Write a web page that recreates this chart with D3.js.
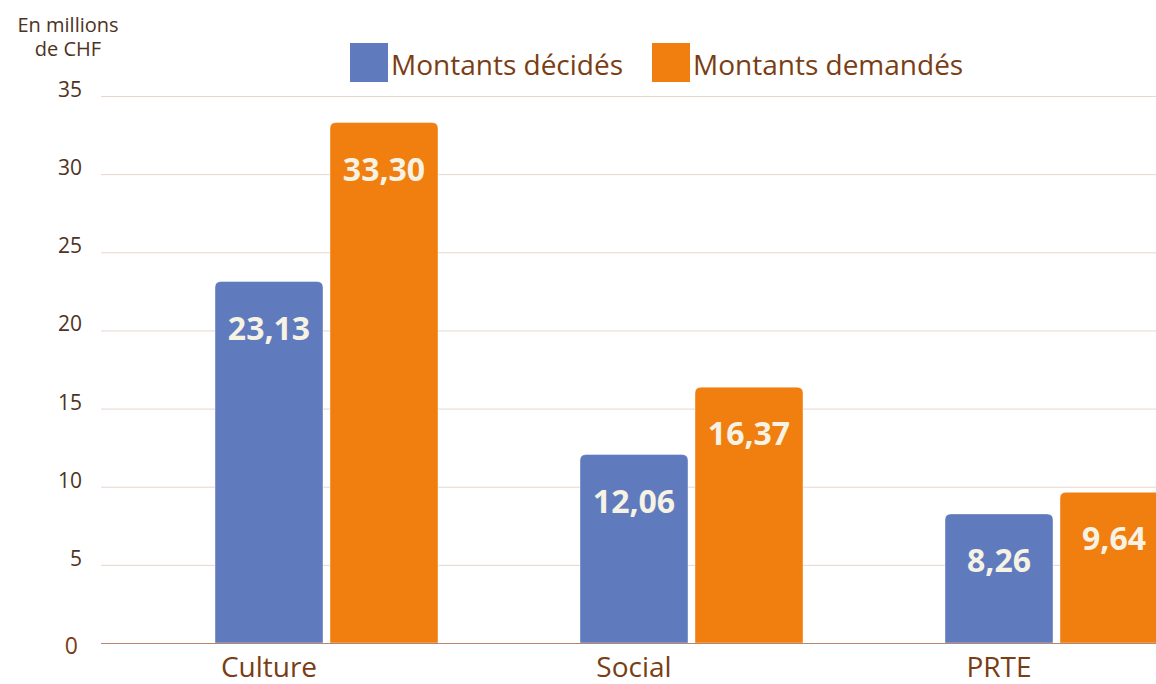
<!DOCTYPE html>
<html>
<head>
<meta charset="utf-8">
<script src="https://cdn.jsdelivr.net/npm/d3@7"></script>
<style>
  body { margin: 0; background: #fff; }
  svg { display: block; font-family: "Open Sans", "Noto Sans", sans-serif; }
</style>
</head>
<body>
<svg id="chart"></svg>
<script>
const categories = ['Culture', 'Social', 'PRTE'];
const seriesNames = ['Montants décidés', 'Montants demandés'];
const decides = [23.13, 12.06, 8.26];
const demandes = [33.30, 16.37, 9.64];
const yTicks = [0, 5, 10, 15, 20, 25, 30, 35];

const width = 1156, height = 684;
const colors = ['#5f7bbd', '#f07f10'];
const brown = '#7a3d14';
const darkBrown = '#4e3323';

const svg = d3.select('#chart').attr('width', width).attr('height', height);

// scales
const x = d3.scaleBand().domain(categories).range([144, 1239]).padding(0);
const y = d3.scaleLinear().domain([0, 35]).range([643, 96]);
const barW = 108, gap = 7;
const sub = d3.scaleOrdinal().domain([0, 1]).range([-(barW + gap / 2), gap / 2]);

// grid
svg.append('g').selectAll('line').data(yTicks.filter(d => d > 0)).enter().append('line')
    .attr('x1', 101).attr('x2', width)
    .attr('y1', d => y(d) + 0.5).attr('y2', d => y(d) + 0.5)
    .attr('stroke', '#e8d5cc').attr('stroke-width', 1);

// y tick labels
svg.append('g').selectAll('text').data(yTicks).enter().append('text')
    .attr('x', d => d === 0 ? 78 : 82).attr('y', d => y(d) + (d === 0 ? 11 : 1))
    .attr('text-anchor', 'end')
    .attr('font-size', d => d === 0 ? 23 : 21)
    .attr('fill', d => d === 0 ? brown : darkBrown)
    .text(d => d);

// y title
svg.append('text').attr('x', 68).attr('y', 32).attr('text-anchor', 'middle')
    .attr('font-size', 20).attr('fill', darkBrown).text('En millions');
svg.append('text').attr('x', 68).attr('y', 56).attr('text-anchor', 'middle')
    .attr('font-size', 20).attr('fill', darkBrown).text('de CHF');

// bars
function topRounded(x0, y0, w, h, r) {
    return `M${x0},${y0 + h}V${y0 + r}Q${x0},${y0} ${x0 + r},${y0}H${x0 + w - r}Q${x0 + w},${y0} ${x0 + w},${y0 + r}V${y0 + h}Z`;
}

const rows = [];
categories.forEach((c, i) => {
    rows.push({ cat: c, s: 0, v: decides[i] });
    rows.push({ cat: c, s: 1, v: demandes[i] });
});

const cx = c => x(c) + x.bandwidth() / 2;

svg.append('g').selectAll('path').data(rows).enter().append('path')
    .attr('d', d => topRounded(cx(d.cat) + sub(d.s), y(d.v), barW, y(0) - y(d.v), 6))
    .attr('fill', d => colors[d.s])
    .attr('stroke', '#fff').attr('stroke-opacity', 0.4).attr('stroke-width', 1);

// baseline
svg.append('line').attr('x1', 101).attr('x2', width)
    .attr('y1', y(0) + 0.5).attr('y2', y(0) + 0.5)
    .attr('stroke', '#b8856f').attr('stroke-width', 1.2);

// value labels
const fmt = v => v.toFixed(2).replace('.', ',');
svg.append('g').selectAll('text').data(rows).enter().append('text')
    .attr('x', d => cx(d.cat) + sub(d.s) + barW / 2)
    .attr('y', d => y(d.v) + 58)
    .attr('text-anchor', 'middle')
    .attr('font-size', 32).attr('font-weight', 'bold')
    .attr('fill', '#f6f2e4')
    .text(d => fmt(d.v));

// category labels
svg.append('g').selectAll('text').data(categories).enter().append('text')
    .attr('x', d => cx(d) - gap / 2 - 54)
    .attr('y', 677)
    .attr('text-anchor', 'middle')
    .attr('font-size', 28).attr('fill', brown)
    .text(d => d);

// legend
const legend = svg.append('g').selectAll('g').data(seriesNames).enter().append('g')
    .attr('transform', (d, i) => `translate(${[350, 652][i]}, 43)`);
legend.append('rect').attr('width', 38).attr('height', 39).attr('fill', (d, i) => colors[i]);
legend.append('text').attr('x', 41).attr('y', 32)
    .attr('font-size', 28).attr('fill', brown)
    .text(d => d);
</script>
</body>
</html>
